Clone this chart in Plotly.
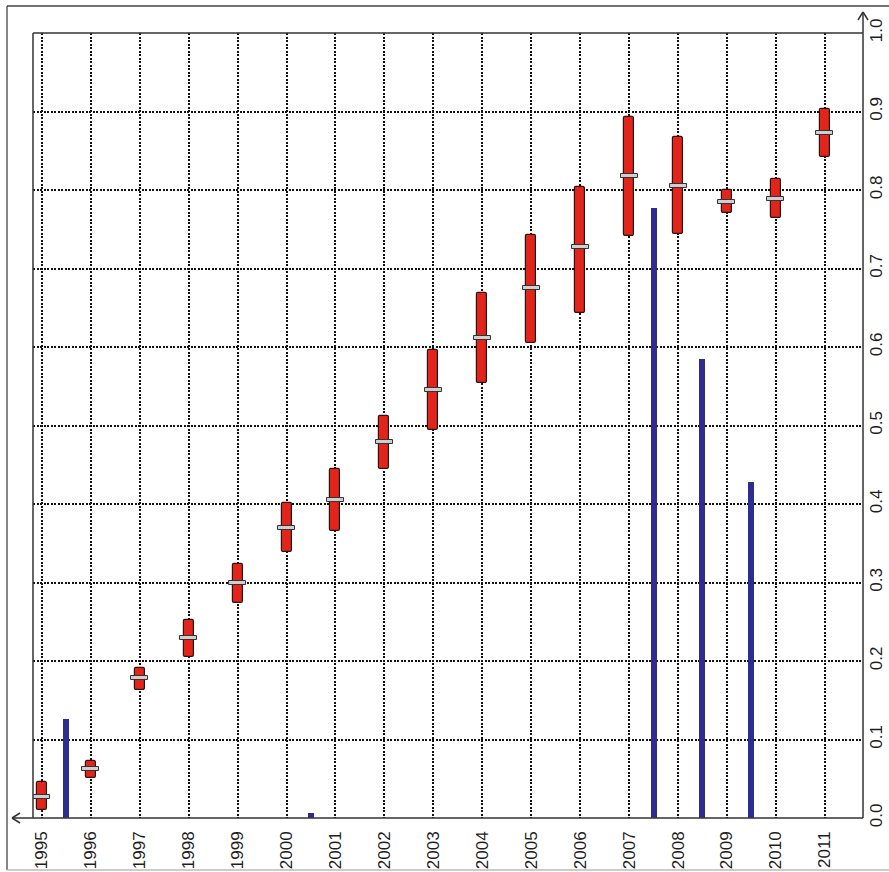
import plotly.graph_objects as go

# ---- data ----
years = [1995, 1996, 1997, 1998, 1999, 2000, 2001, 2002, 2003, 2004,
         2005, 2006, 2007, 2008, 2009, 2010, 2011]
low = [0.010, 0.051, 0.163, 0.205, 0.274, 0.339, 0.366, 0.445, 0.494, 0.554,
       0.605, 0.643, 0.741, 0.744, 0.771, 0.764, 0.842]
median = [0.027, 0.062, 0.178, 0.229, 0.299, 0.369, 0.405, 0.479, 0.545, 0.611,
          0.675, 0.727, 0.818, 0.805, 0.785, 0.789, 0.873]
high = [0.046, 0.073, 0.191, 0.252, 0.324, 0.401, 0.445, 0.512, 0.596, 0.669,
        0.743, 0.804, 0.893, 0.868, 0.800, 0.814, 0.903]
blue_after_year = [1995, 2000, 2007, 2008, 2009]
blue_values = [0.126, 0.006, 0.777, 0.585, 0.428]
y_ticks = [0.0, 0.1, 0.2, 0.3, 0.4, 0.5, 0.6, 0.7, 0.8, 0.9, 1.0]

# ---- layout geometry (pixels) ----
W, H = 889, 872
L, R, T, B = 33, 863, 33, 818
XMIN, XMAX = 1994.82, 2011.78
px_per_year = (R - L) / (XMAX - XMIN)

def xp(px):
    return (px - L) / (R - L)

def yp(py):
    return (B - py) / (B - T)

fig = go.Figure()

# red range boxes
fig.add_trace(go.Bar(
    x=years, base=low, y=[h - l for h, l in zip(high, low)],
    width=10 / px_per_year,
    marker=dict(color="#e3241b", line=dict(color="#2a1410", width=1.2), cornerradius=2),
    hoverinfo="skip", showlegend=False,
))
# median markers
med_h = 4 / (B - T)
fig.add_trace(go.Bar(
    x=years, base=[m - med_h / 2 for m in median], y=[med_h] * len(median),
    width=17 / px_per_year,
    marker=dict(color="#cfcfcf", line=dict(color="#333333", width=1)),
    hoverinfo="skip", showlegend=False,
))
# blue bars
fig.add_trace(go.Bar(
    x=[y + 0.5 for y in blue_after_year], y=blue_values,
    width=6 / px_per_year,
    marker=dict(color="#2e2c8e", line=dict(width=0)),
    hoverinfo="skip", showlegend=False,
))

line_col = "#333333"
shapes = []
def seg(x0, y0, x1, y1, color=line_col, width=1.5):
    shapes.append(dict(type="line", xref="paper", yref="paper",
                       x0=xp(x0), y0=yp(y0), x1=xp(x1), y1=yp(y1),
                       line=dict(color=color, width=width), layer="above"))

# frame
seg(L, T, R, T)            # top
seg(L, T, L, B)            # left
seg(12, B, R, B)           # bottom axis with extension
seg(R, 12, R, B)           # right axis with extension
# arrowheads
seg(12, B, 20, B - 5)
seg(12, B, 20, B + 5)
seg(R, 12, R - 5, 20)
seg(R, 12, R + 5, 20)
# outer border
seg(7, 6, 892, 6, color="#444444", width=1.3)
seg(7, 6, 7, 870, color="#444444", width=1.3)
seg(7, 870, 892, 870, color="#bbbbbb", width=1.3)

grid_dash = "2px,1.5px"
tick_font = dict(family="Liberation Sans, Arial, sans-serif", size=17, color="#1e1e1e")
fig.update_layout(
    width=W, height=H,
    margin=dict(l=L, r=W - R, t=T, b=H - B, autoexpand=False),
    paper_bgcolor="white", plot_bgcolor="white",
    barmode="overlay",
    bargap=0,
    shapes=shapes,
    font=tick_font,
    xaxis=dict(
        range=[XMIN, XMAX], tickvals=years, ticktext=[str(y) for y in years],
        tickangle=-90, tickfont=tick_font,
        showgrid=True, gridcolor="#111111", gridwidth=1.6,
        griddash=grid_dash, zeroline=False, showline=False, ticks="",
        ticklabelstandoff=9, automargin=False,
    ),
    yaxis=dict(
        range=[0, 1], side="right", tickvals=y_ticks,
        ticktext=[f"{v:.1f}" for v in y_ticks],
        tickangle=-90, tickfont=tick_font,
        showgrid=True, gridcolor="#111111", gridwidth=1.6,
        griddash=grid_dash, zeroline=False, showline=False, ticks="",
        ticklabelstandoff=1, automargin=False,
    ),
)

fig.write_html("out.html")
